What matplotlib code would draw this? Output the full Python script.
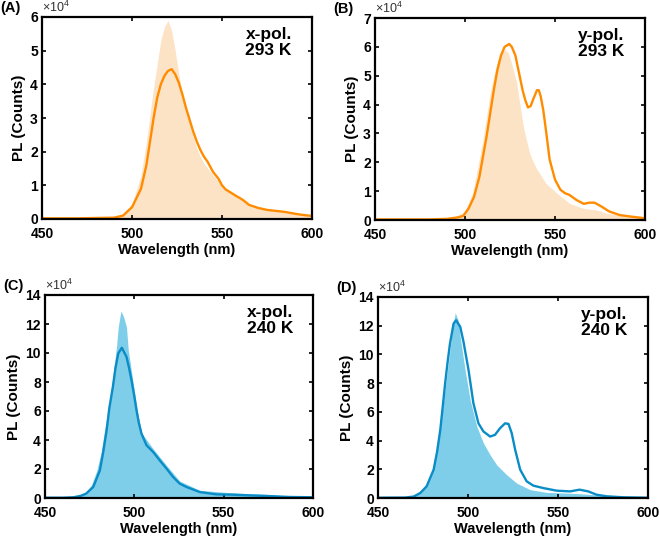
import numpy as np
import matplotlib
matplotlib.use('Agg')
from matplotlib import pyplot as plt

# wavelengths (nm) and PL counts (x1e4)
wl_a_line = [450, 470, 490, 495, 500, 505, 508, 510, 512, 514, 516, 518, 520, 522, 524, 526, 528, 530,
             532, 534, 536, 538, 540, 542, 545, 548, 550, 552, 555, 558, 560, 562, 565, 570, 575, 580,
             585, 590, 595, 600]
pl_a_line = [0.02, 0.02, 0.04, 0.1, 0.35, 0.9, 1.6, 2.3, 3.0, 3.6, 4.0, 4.25, 4.4, 4.45, 4.3, 4.05, 3.7,
             3.3, 2.95, 2.6, 2.3, 2.05, 1.85, 1.7, 1.4, 1.2, 1.0, 0.88, 0.78, 0.68, 0.62, 0.55, 0.42, 0.33,
             0.27, 0.24, 0.21, 0.16, 0.12, 0.09]
wl_a_fill = [450, 470, 490, 495, 500, 505, 508, 510, 512, 514, 516, 518, 520, 522, 524, 526, 528, 530,
             532, 534, 536, 538, 540, 545, 550, 555, 560, 565, 570, 575, 580, 590, 600]
pl_a_fill = [0.02, 0.02, 0.05, 0.15, 0.45, 1.3, 2.3, 3.1, 3.9, 4.6, 5.3, 5.7, 5.9, 5.6, 5.0, 4.3, 3.7,
             3.25, 2.85, 2.45, 2.1, 1.85, 1.65, 1.3, 1.0, 0.78, 0.6, 0.42, 0.33, 0.27, 0.23, 0.15, 0.08]

wl_b_line = [450, 480, 490, 495, 499, 502, 505, 508, 510, 512, 514, 516, 518, 520, 522, 524.6, 526, 528,
             530, 532, 533.5, 535, 536.5, 538, 540, 541, 542, 543.5, 545, 547, 550, 553, 555.5, 558,
             562, 566, 569, 572, 576, 580, 586, 592, 600]
pl_b_line = [0.02, 0.02, 0.04, 0.08, 0.14, 0.4, 0.8, 1.5, 2.2, 2.9, 3.7, 4.5, 5.2, 5.7, 6.0, 6.1, 6.0,
             5.7, 5.1, 4.5, 4.15, 3.9, 3.95, 4.2, 4.5, 4.5, 4.3, 3.8, 3.1, 2.1, 1.4, 1.05, 0.93, 0.87,
             0.69, 0.56, 0.6, 0.6, 0.46, 0.3, 0.17, 0.12, 0.06]
wl_b_fill = [450, 480, 490, 495, 500, 504, 507, 510, 512, 514, 516, 518, 520, 522, 524, 526, 528.7, 530,
             532.4, 534, 536, 538, 540, 545, 551, 558, 566, 573, 579, 586, 600]
pl_b_fill = [0.02, 0.02, 0.05, 0.1, 0.3, 0.9, 1.8, 2.8, 3.6, 4.4, 5.0, 5.5, 5.8, 5.9, 5.8, 5.4, 4.75,
             4.2, 3.25, 2.8, 2.3, 2.0, 1.75, 1.27, 0.93, 0.58, 0.4, 0.35, 0.23, 0.17, 0.06]

wl_c_line = [450, 460, 466, 470, 473, 477, 480.7, 482.5, 484.5, 486, 488, 489.5, 491, 493, 495.6, 497,
             498.4, 500, 501.2, 502.5, 504, 506.8, 510.5, 514.2, 518, 521.7, 525.4, 529.2, 536.6, 546,
             555, 564.6, 574, 587, 600]
pl_c_line = [0.02, 0.02, 0.05, 0.15, 0.3, 0.76, 1.9, 3.1, 4.67, 6.2, 7.67, 9.0, 9.97, 10.36, 9.74, 9.0,
             8.13, 7.0, 6.06, 5.2, 4.44, 3.64, 3.18, 2.6, 2.03, 1.45, 0.99, 0.76, 0.41, 0.25, 0.23, 0.18,
             0.14, 0.07, 0.05]
wl_c_fill = [450, 460, 466, 470, 473, 476, 479, 481.5, 483.5, 486, 488, 490, 491, 492.5, 494, 495.6,
             496.6, 499.4, 502, 504, 510.5, 518, 525.4, 536.6, 555, 574, 590, 600]
pl_c_fill = [0.02, 0.02, 0.06, 0.2, 0.4, 0.9, 1.9, 3.2, 4.8, 6.5, 8.4, 10.4, 11.8, 12.9, 12.5, 11.8,
             10.2, 7.9, 5.8, 4.5, 3.4, 2.25, 1.17, 0.53, 0.35, 0.25, 0.1, 0.05]

wl_d_line = [450, 465, 469.8, 473.5, 477, 480.9, 482.8, 484.6, 486, 487.3, 488.7, 490, 492, 493.4,
             495.7, 497.5, 500.3, 503, 505.8, 508.6, 512.3, 515, 517.8, 520.6, 522.5, 524.3, 526.2, 529,
             532.6, 536.3, 541.9, 549.3, 556.7, 562, 566.8, 571.4, 577, 586, 600]
pl_d_line = [0.02, 0.03, 0.1, 0.35, 0.81, 1.97, 3.2, 4.75, 6.4, 7.99, 9.5, 10.76, 12.15, 12.38, 11.92,
             10.88, 8.91, 6.6, 5.2, 4.63, 4.28, 4.4, 4.86, 5.2, 5.16, 4.51, 3.36, 1.97, 1.16, 0.86, 0.69,
             0.51, 0.46, 0.58, 0.46, 0.23, 0.12, 0.05, 0.02]
wl_d_fill = [450, 465, 470, 473.5, 477, 480, 482, 484, 486, 488, 490, 491.5, 492.9, 494.5, 495.7, 498.4,
             501.2, 504.9, 508.6, 512.3, 516, 521.5, 527, 534.5, 543.7, 553, 562, 571.4, 580.7, 600]
pl_d_fill = [0.02, 0.04, 0.15, 0.4, 0.95, 1.9, 3.0, 4.5, 6.3, 8.3, 10.3, 11.9, 12.9, 12.4, 11.2, 8.9,
             6.83, 4.98, 3.82, 3.0, 2.3, 1.62, 1.04, 0.58, 0.39, 0.35, 0.3, 0.21, 0.12, 0.02]

ymax = [6, 7, 14, 14]
pol_labels = ['x-pol.\n293 K', 'y-pol.\n293 K', 'x-pol.\n240 K', 'y-pol.\n240 K']
panel_labels = ['(A)', '(B)', '(C)', '(D)']

ORANGE, ORANGE_FILL = '#FF8C00', '#FDE3C6'
BLUE, BLUE_FILL = '#0A8CC6', '#7ECEEA'

plt.rcParams.update({
    'font.family': ['Liberation Sans', 'DejaVu Sans'],
    'font.weight': 'bold',
    'mathtext.default': 'regular',
})

fig = plt.figure(figsize=(6.6, 5.39), dpi=100)
W, H = 660, 539
# axes boxes in pixels: left, top, right, bottom
boxes = [(42, 17, 312, 219), (375, 18, 645, 220), (45, 295, 313, 498), (378, 297, 648, 498)]
data = [(wl_a_line, pl_a_line, wl_a_fill, pl_a_fill, ORANGE, ORANGE_FILL),
        (wl_b_line, pl_b_line, wl_b_fill, pl_b_fill, ORANGE, ORANGE_FILL),
        (wl_c_line, pl_c_line, wl_c_fill, pl_c_fill, BLUE, BLUE_FILL),
        (wl_d_line, pl_d_line, wl_d_fill, pl_d_fill, BLUE, BLUE_FILL)]

for i, (box, d) in enumerate(zip(boxes, data)):
    l, t, r, b = box
    ax = fig.add_axes([l / W, 1 - b / H, (r - l) / W, (b - t) / H])
    wl, pl, wf, pf, c_line, c_fill = d
    ax.fill_between(wf, 0, pf, color=c_fill, linewidth=0)
    ax.plot(wl, pl, color=c_line, linewidth=1.7)
    ax.set_xlim(450, 600)
    ax.set_ylim(0, ymax[i])
    ax.set_xticks([450, 500, 550, 600])
    step = 1 if ymax[i] < 10 else 2
    ax.set_yticks(np.arange(0, ymax[i] + 0.1, step))
    ax.tick_params(direction='in', top=True, right=True, length=3, width=1.2, labelsize=10)
    ax.tick_params(axis='x', pad=6)
    ax.tick_params(axis='y', pad=3)
    for s in ax.spines.values():
        s.set_linewidth(1.6)
    ax.set_xlabel('Wavelength (nm)', fontsize=10.5, fontweight='bold', labelpad=1)
    ax.set_ylabel('PL (Counts)', fontsize=11, fontweight='bold', labelpad=3)
    ax.text(0.925, 0.95, pol_labels[i], transform=ax.transAxes, ha='right', va='top',
            fontsize=12.5, fontweight='bold', linespacing=1.1)
    # MATLAB style exponent above the y axis
    ax.text(0.0, 1.008, '\u00d710$^{4}$', transform=ax.transAxes, ha='left', va='bottom',
            fontsize=9, fontweight='normal', color='#333333')
    fig.text((l - 42) / W, 1 - (t - 2) / H, panel_labels[i], ha='left', va='bottom',
             fontsize=10.5, fontweight='bold')

fig.savefig('out.png', dpi=100)
